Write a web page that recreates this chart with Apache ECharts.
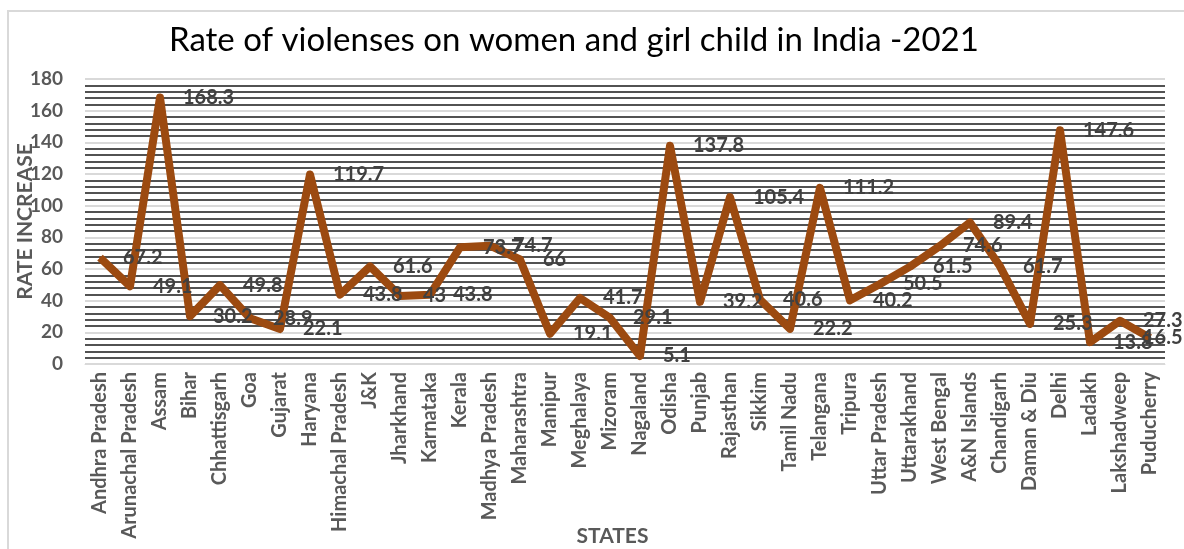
<!DOCTYPE html>
<html>
<head>
<meta charset="utf-8">
<script src="https://cdn.jsdelivr.net/npm/echarts@6/dist/echarts.min.js"></script>
<style>
html,body{margin:0;padding:0;background:#fff;}
#frame{position:absolute;left:7px;top:10px;width:1200px;height:560px;border-left:2px solid #d9d9d9;border-top:2px solid #d9d9d9;}
#charts{position:absolute;left:0;top:0;width:1184px;height:549px;}
</style>
</head>
<body>
<div id="frame"></div>
<div id="charts"></div>
<script>
// states in chart order
var states = ["Andhra Pradesh","Arunachal Pradesh","Assam","Bihar","Chhattisgarh","Goa","Gujarat","Haryana",
	"Himachal Pradesh","J&K","Jharkhand","Karnataka","Kerala","Madhya Pradesh","Maharashtra","Manipur",
	"Meghalaya","Mizoram","Nagaland","Odisha","Punjab","Rajasthan","Sikkim","Tamil Nadu","Telangana",
	"Tripura","Uttar Pradesh","Uttarakhand","West Bengal","A&N Islands","Chandigarh","Daman & Diu",
	"Delhi","Ladakh","Lakshadweep","Puducherry"];
// rate per state
var rates = [67.2,49.1,168.3,30.2,49.8,28.9,22.1,119.7,
	43.8,61.6,43,43.8,73.7,74.7,66,19.1,
	41.7,29.1,5.1,137.8,39.2,105.4,40.6,22.2,111.2,
	40.2,50.5,61.5,74.6,89.4,61.7,25.3,
	147.6,13.8,27.3,16.5];
var yTicks = [0,20,40,60,80,100,120,140,160,180];

var labelColor = '#595959';
var fontFam = 'Lato, "Open Sans", sans-serif';

function buildData(){
	var arr = [];
	for(var i=0;i<rates.length;i++){
		if(i == rates.length-1){
			// last label is pushed back inside the chart
			arr.push({value:rates[i], label:{offset:[-30,0]}});
		}else{
			arr.push(rates[i]);
		}
	}
	return arr;
}

var charts = echarts.init(document.getElementById('charts'));
var options = {
	animation:false,
	title:{
		text:'Rate of violenses on women and girl child in India -2021',
		left:164,
		top:19,
		textStyle:{fontFamily:fontFam,fontSize:33,fontWeight:'normal',color:'#000'}
	},
	grid:{left:85,right:19,top:79,bottom:185,outerBoundsMode:'none',containLabel:false},
	xAxis:{
		type:'category',
		data:states,
		boundaryGap:true,
		name:'STATES',
		nameLocation:'middle',
		nameGap:162,
		nameMoveOverlap:false,
		nameTextStyle:{fontFamily:fontFam,fontSize:21,fontWeight:'bold',color:labelColor,padding:[0,25,0,0]},
		axisLine:{show:true,lineStyle:{color:'#d9d9d9',width:1}},
		axisTick:{show:false},
		axisLabel:{
			interval:0,
			rotate:90,
			margin:8,
			fontFamily:fontFam,
			fontSize:20,
			fontWeight:'bold',
			color:labelColor
		}
	},
	yAxis:{
		type:'value',
		min:yTicks[0],
		max:yTicks[yTicks.length-1],
		interval:20,
		name:'RATE INCREASE',
		nameLocation:'middle',
		nameGap:49,
		nameMoveOverlap:false,
		nameTextStyle:{fontFamily:fontFam,fontSize:21,fontWeight:'bold',color:labelColor},
		axisLine:{show:false},
		axisTick:{show:false},
		axisLabel:{fontFamily:fontFam,fontSize:19,fontWeight:'bold',color:labelColor,margin:22},
		splitLine:{show:true,lineStyle:{color:'#d9d9d9',width:2}},
		minorTick:{show:false,splitNumber:5},
		minorSplitLine:{show:true,lineStyle:{color:'#1a1a1a',width:1.5}}
	},
	series:[{
		name:'Rate',
		type:'line',
		data:buildData(),
		symbol:'circle',
		symbolSize:2,
		itemStyle:{color:'#9c4a10'},
		lineStyle:{color:'#9c4a10',width:8,join:'round'},
		label:{
			show:true,
			position:'right',
			distance:22,
			fontFamily:fontFam,
			fontSize:20,
			fontWeight:'bold',
			color:'#404040'
		}
	}]
};
charts.setOption(options);
</script>
</body>
</html>
